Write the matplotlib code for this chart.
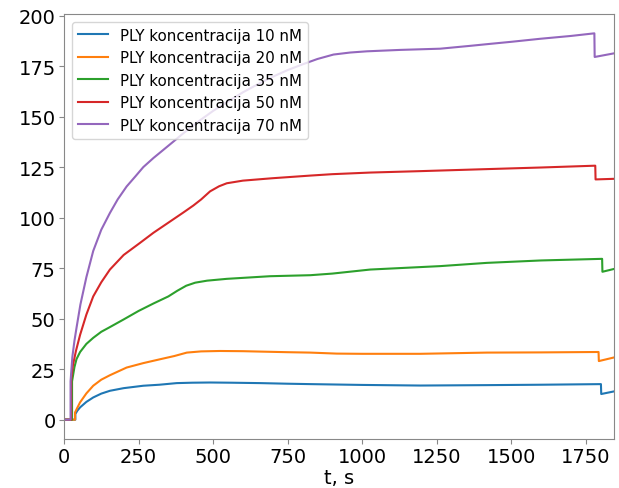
import matplotlib
matplotlib.use('Agg')
import matplotlib.pyplot as plt

labels = ['PLY koncentracija 10 nM', 'PLY koncentracija 20 nM', 'PLY koncentracija 35 nM',
          'PLY koncentracija 50 nM', 'PLY koncentracija 70 nM']

# time points (s) and signal values
t10 = [0, 38, 38, 45, 54, 75, 98, 125, 154, 200, 266, 320, 378, 430, 490, 560, 658, 750, 826,
       1000, 1195, 1418, 1600, 1801, 1802, 1845]
v10 = [0, 0, 2.8, 4.5, 6.1, 8.8, 11.0, 12.9, 14.3, 15.6, 16.8, 17.3, 18.1, 18.3, 18.4, 18.3, 18.1,
       17.8, 17.6, 17.2, 16.9, 17.1, 17.3, 17.6, 12.7, 14.0]

t20 = [0, 37, 37, 45, 54, 75, 98, 125, 154, 210, 266, 322, 370, 412, 460, 523, 600, 658, 750,
       826, 915, 1000, 1195, 1418, 1600, 1793, 1794, 1845]
v20 = [0, 0, 3.6, 6.0, 8.6, 13.0, 16.8, 19.8, 22.0, 25.8, 28.0, 29.9, 31.5, 33.2, 33.8, 34.0, 33.9,
       33.7, 33.4, 33.2, 32.7, 32.6, 32.6, 33.2, 33.3, 33.5, 29.0, 30.8]

t35 = [0, 27, 27, 35, 42, 54, 75, 98, 125, 150, 200, 250, 300, 350, 380, 410, 440, 480, 546, 691,
       826, 900, 1027, 1262, 1418, 1600, 1805, 1806, 1845]
v35 = [0, 0, 19.0, 26.0, 30.0, 33.5, 37.5, 40.5, 43.5, 45.5, 49.6, 53.8, 57.5, 61.0, 63.8, 66.3,
       67.8, 68.8, 69.7, 71.0, 71.5, 72.3, 74.3, 76.0, 77.6, 78.8, 79.6, 73.2, 74.6]

t50 = [0, 24, 24, 30, 40, 54, 75, 98, 125, 154, 200, 255, 300, 350, 400, 434, 460, 490, 520, 546,
       600, 658, 700, 826, 900, 1027, 1195, 1418, 1600, 1782, 1783, 1845]
v50 = [0, 0, 20.0, 27.0, 34.0, 42.0, 52.0, 61.0, 68.0, 74.3, 81.5, 87.5, 92.5, 97.5, 102.5, 106.0,
       109.0, 113.0, 115.5, 117.0, 118.3, 119.0, 119.5, 120.8, 121.5, 122.3, 123.0, 124.0, 124.8,
       125.7, 118.9, 119.2]

t70 = [0, 22, 22, 28, 35, 42, 55, 75, 98, 125, 154, 180, 210, 240, 266, 300, 333, 370, 400, 450,
       500, 550, 600, 650, 700, 750, 803, 850, 904, 960, 1016, 1128, 1262, 1362, 1430, 1500, 1597,
       1700, 1779, 1780, 1845]
v70 = [0, 0, 19.0, 31.0, 39.0, 45.5, 57.0, 70.5, 83.5, 94.0, 102.3, 109.0, 115.4, 120.5, 125.0,
       129.5, 133.5, 138.0, 141.7, 147.5, 152.8, 157.5, 162.0, 166.0, 169.7, 173.0, 176.0, 178.5,
       180.7, 181.7, 182.3, 183.0, 183.6, 185.0, 186.0, 187.0, 188.5, 189.9, 191.2, 179.5, 181.3]

times = [t10, t20, t35, t50, t70]
values = [v10, v20, v35, v50, v70]

plt.figure(figsize=(6.19, 4.89), dpi=100)
plt.subplots_adjust(left=0.1034, right=0.992, bottom=0.1002, top=0.9693)

for i, label in enumerate(labels):
    plt.plot(times[i], values[i], label=label, linewidth=1.5)

plt.xlim(0, 1845)
plt.xlabel('t, s', fontsize=14, labelpad=1)
plt.xticks([0, 250, 500, 750, 1000, 1250, 1500, 1750], fontsize=14)
plt.yticks([0, 25, 50, 75, 100, 125, 150, 175, 200], fontsize=14)
plt.legend(fontsize=10.8, loc='upper left')

ax = plt.gca()
for s in ax.spines.values():
    s.set_color('#888888')
ax.tick_params(color='#888888', pad=2.5)

plt.savefig('out.png', dpi=100)
